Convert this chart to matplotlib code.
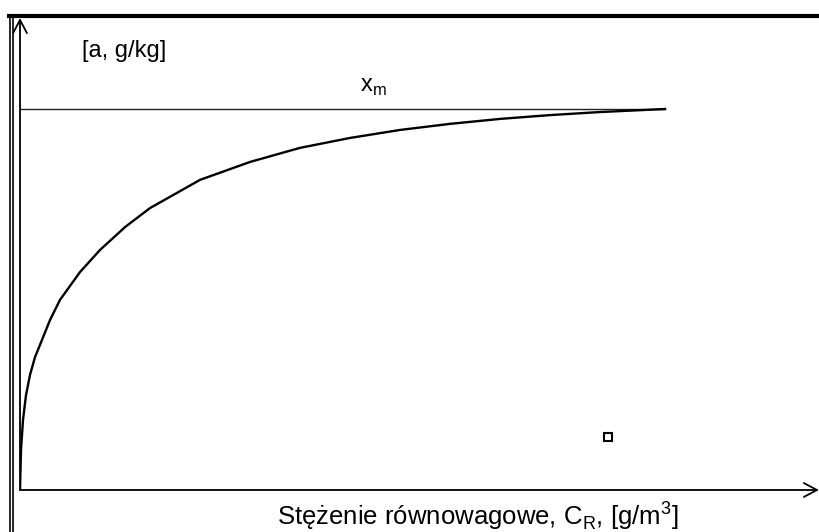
import matplotlib
matplotlib.use("Agg")
import matplotlib.pyplot as plt
from matplotlib.lines import Line2D

plt.rcParams['font.family'] = ['Liberation Sans', 'DejaVu Sans']
plt.rcParams['mathtext.fontset'] = 'custom'
plt.rcParams['mathtext.rm'] = 'Liberation Sans'

conc = [0.0, 0.0155, 0.0465, 0.093, 0.155, 0.233, 0.310, 0.465, 0.620,
        0.930, 1.240, 1.628, 2.016, 2.791, 3.566, 4.341, 5.116, 5.891,
        6.667, 7.442, 8.217, 8.992, 10.0]
adsorbed = [0.0, 0.105, 0.184, 0.249, 0.302, 0.349, 0.381, 0.446, 0.499,
            0.572, 0.630, 0.690, 0.740, 0.814, 0.861, 0.898, 0.924, 0.945,
            0.961, 0.974, 0.984, 0.992, 1.0]
x_m = 1.0
c_end = 10.0
point_c = [9.12]
point_a = [0.139]

W, H = 819, 532
fig = plt.figure(figsize=(W / 100, H / 100), dpi=100)

# frame: thick top rule and double rule on the left
fig.add_artist(Line2D([9 / W, 1], [1 - 16 / H] * 2, color='black', lw=3.0))
fig.add_artist(Line2D([9.5 / W] * 2, [0, 1 - 16 / H], color='black', lw=1.2))
fig.add_artist(Line2D([12.5 / W] * 2, [0, 1 - 16 / H], color='black', lw=1.2))

ax = fig.add_axes([20 / W, 42 / H, 799 / W, 472 / H])
ax.set_xlim(0, 799 / 64.5)
ax.set_ylim(0, 472 / 381)
ax.axis('off')

arrow = dict(arrowstyle='->,head_length=0.95,head_width=0.5', lw=1.3,
             color='black', shrinkA=0, shrinkB=0)
ax.annotate('', xy=(0, 1), xytext=(0, 0), xycoords='axes fraction', arrowprops=arrow)
ax.annotate('', xy=(1, 0), xytext=(0, 0), xycoords='axes fraction', arrowprops=arrow)

ax.plot([0, c_end], [x_m, x_m], color='#222222', lw=1.0)
ax.plot(conc, adsorbed, color='black', lw=1.7, solid_joinstyle='round')
ax.plot(point_c, point_a, 's', ms=6, mfc='white', mec='black', mew=1.5)

fig.text(82 / W, 1 - 51 / H, '[a, g/kg]', fontsize=17, va='center', ha='left')
fig.text(360 / W, 1 - 87 / H, r'x$_\mathrm{m}$', fontsize=17, va='center', ha='left')
fig.text(277 / W, 1 - 525 / H,
         r'Stężenie równowagowe, C$_\mathrm{R}$, [g/m$^\mathrm{3}$]',
         fontsize=18.5, va='baseline', ha='left')

fig.savefig('out.png', dpi=100)
